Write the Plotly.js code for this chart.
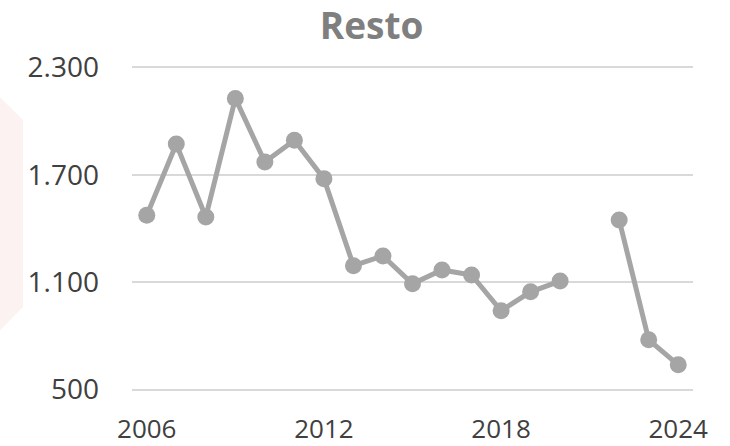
<!DOCTYPE html>
<html>
<head>
<meta charset="utf-8">
<script src="https://cdn.plot.ly/plotly-3.0.1.min.js"></script>
<style>html,body{margin:0;padding:0;background:#fff;}#chart{width:730px;height:446px;}</style>
</head>
<body>
<div id="chart"></div>
<script>
const years = [2006, 2007, 2008, 2009, 2010, 2011, 2012, 2013, 2014, 2015, 2016, 2017, 2018, 2019, 2020, 2021, 2022, 2023, 2024];
const resto = [1473, 1871, 1464, 2126, 1771, 1892, 1678, 1192, 1246, 1091, 1168, 1140, 940, 1046, 1106, null, 1447, 778, 638];
const xTicks = [2006, 2012, 2018, 2024];
const yTicks = [500, 1100, 1700, 2300];
const yTickText = ['500', '1.100', '1.700', '2.300'];

const trace = {
  x: years,
  y: resto,
  type: 'scatter',
  mode: 'lines+markers',
  connectgaps: false,
  line: {color: '#a5a5a5', width: 5},
  marker: {color: '#a5a5a5', size: 17},
  hoverinfo: 'skip'
};

const layout = {
  width: 730,
  height: 446,
  margin: {l: 132, r: 37, t: 66, b: 55, pad: 0},
  paper_bgcolor: '#ffffff',
  plot_bgcolor: '#ffffff',
  showlegend: false,
  title: {
    text: 'Resto',
    font: {family: 'Open Sans', size: 37, color: '#7f7f7f', weight: 'bold'},
    xref: 'container', x: 0.509, xanchor: 'center',
    yref: 'container', y: 0.9406, yanchor: 'middle'
  },
  xaxis: {
    range: [2005.5, 2024.5],
    tickvals: xTicks,
    ticktext: xTicks.map(String),
    showgrid: false,
    zeroline: false,
    showline: false,
    ticks: '',
    ticklabelstandoff: 20,
    tickfont: {family: 'Open Sans', size: 26, color: '#404040'}
  },
  yaxis: {
    range: [492, 2307],
    tickvals: yTicks,
    ticktext: yTickText,
    showgrid: true,
    gridcolor: '#d9d9d9',
    gridwidth: 2,
    zeroline: false,
    showline: false,
    ticks: '',
    ticklabelstandoff: 32,
    tickfont: {family: 'Open Sans', size: 28, color: '#404040'}
  },
  shapes: [{
    type: 'path',
    xref: 'paper', yref: 'paper',
    path: 'M -0.245 0.92 L -0.1943 0.8338 L -0.1943 0.2585 L -0.245 0.17 Z',
    fillcolor: 'rgb(253,242,242)',
    line: {width: 0},
    layer: 'below'
  }]
};

Plotly.newPlot('chart', [trace], layout, {displayModeBar: false, staticPlot: true});
</script>
</body>
</html>
